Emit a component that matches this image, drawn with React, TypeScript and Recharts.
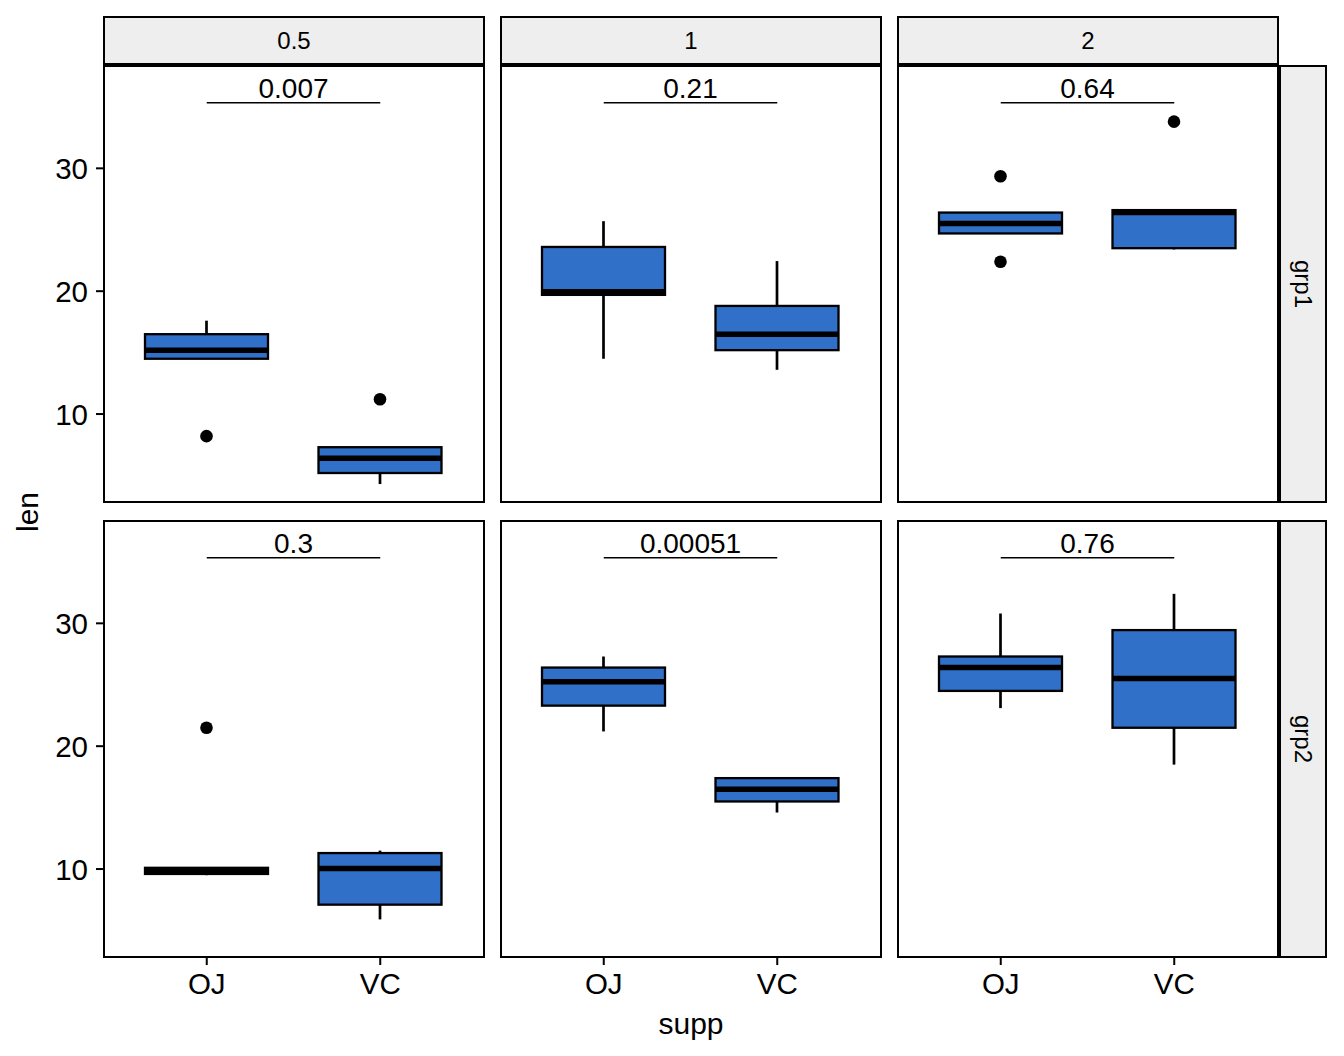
import React from 'react';
import { ComposedChart, Bar, XAxis, YAxis, ReferenceLine } from 'recharts';

const supps = ['OJ', 'VC'];
const doses = ['0.5', '1', '2'];
const groups = ['grp1', 'grp2'];
const yTicks = [10, 20, 30];

// [row = grp][col = dose][OJ, VC]
const whiskerLow = [
  [[14.5, 4.3], [14.5, 13.6], [24.7, 23.4]],
  [[9.5, 5.9], [21.2, 14.6], [23.1, 18.5]],
];
const q1 = [
  [[14.5, 5.2], [19.7, 15.2], [24.7, 23.5]],
  [[9.6, 7.1], [23.3, 15.5], [24.5, 21.5]],
];
const median = [
  [[15.2, 6.4], [19.95, 16.5], [25.5, 26.4]],
  [[9.85, 10.05], [25.25, 16.5], [26.4, 25.5]],
];
const q3 = [
  [[16.5, 7.3], [23.6, 18.8], [26.4, 26.6]],
  [[10.1, 11.3], [26.4, 17.4], [27.3, 29.45]],
];
const whiskerHigh = [
  [[17.6, 7.3], [25.7, 22.45], [26.4, 26.6]],
  [[10.1, 11.5], [27.3, 17.4], [30.8, 32.4]],
];
const outliers = [
  [[[8.2], [11.2]], [[], []], [[29.35, 22.4], [33.8]]],
  [[[21.5], []], [[], []], [[], []]],
];
const pValues = [
  ['0.007', '0.21', '0.64'],
  ['0.3', '0.00051', '0.76'],
];
const bracketY = 35.34;

const FONT = "'Liberation Sans', Arial, Helvetica, sans-serif";
const FILL = '#3070c8';
const STRIP = '#eeeeee';

const colLeft = [104, 501, 898];
const rowTop = [66, 521];
const PW = 380;
const PH = 436;

const BoxShape = (props: any) => {
  const { x, y, width, height, payload } = props;
  const top = Math.min(y, y + height);
  const ppu = Math.abs(height) / (payload.q3 - payload.q1);
  const py = (v: number) => top + (payload.q3 - v) * ppu;
  const cx = x + width / 2;
  return (
    <g>
      <line x1={cx} x2={cx} y1={py(payload.hi)} y2={py(payload.lo)} stroke="#000" strokeWidth={2.7} />
      <rect
        x={x}
        y={py(payload.q3)}
        width={width}
        height={py(payload.q1) - py(payload.q3)}
        fill={FILL}
        stroke="#000"
        strokeWidth={2.3}
      />
      <line x1={x} x2={x + width} y1={py(payload.med)} y2={py(payload.med)} stroke="#000" strokeWidth={5.5} />
      {payload.out.map((v: number, i: number) => (
        <circle key={i} cx={cx} cy={py(v)} r={6.3} fill="#000" />
      ))}
    </g>
  );
};

function Panel({ r, c }: { r: number; c: number }) {
  const rows = supps.map((s, i) => ({
    supp: s,
    lo: whiskerLow[r][c][i],
    q1: q1[r][c][i],
    med: median[r][c][i],
    q3: q3[r][c][i],
    hi: whiskerHigh[r][c][i],
    out: outliers[r][c][i],
  }));
  const showY = c === 0;
  const showX = r === 1;
  const axisW = showY ? colLeft[0] : 0;
  return (
    <div style={{ position: 'absolute', left: colLeft[c] - axisW, top: rowTop[r] }}>
      <ComposedChart
        width={PW + axisW}
        height={PH + (showX ? 60 : 0)}
        data={rows}
        margin={{ top: 0, right: 0, bottom: 0, left: 0 }}
      >
        <XAxis
          dataKey="supp"
          hide={!showX}
          height={60}
          padding={{ left: 16, right: 17 }}
          interval={0}
          axisLine={false}
          tickSize={8}
          tickMargin={8}
          tickLine={{ stroke: '#000', strokeWidth: 2 }}
          tick={{ fill: '#000', fontSize: 29.5 }}
        />
        <YAxis
          type="number"
          domain={[2.84, 38.33]}
          allowDataOverflow
          ticks={yTicks}
          hide={!showY}
          width={axisW}
          axisLine={false}
          tickSize={8}
          tickMargin={8}
          tickLine={{ stroke: '#000', strokeWidth: 2 }}
          tick={{ fill: '#000', fontSize: 29.5 }}
        />
        <Bar dataKey={(d: any) => [d.q1, d.q3]} barSize={123} shape={BoxShape} isAnimationActive={false} />
        <ReferenceLine
          segment={[{ x: 'OJ', y: bracketY }, { x: 'VC', y: bracketY }]}
          stroke="#000"
          strokeWidth={1.3}
          label={{ value: pValues[r][c], position: 'top', offset: 5, fill: '#000', fontSize: 28 }}
        />
      </ComposedChart>
    </div>
  );
}

export default function App() {
  return (
    <div style={{ position: 'absolute', left: 0, top: 0, width: 1344, height: 1056, background: '#fff', fontFamily: FONT, color: '#000' }}>
      {groups.map((g, r) =>
        doses.map((d, c) => <Panel key={`${g}-${d}`} r={r} c={c} />)
      )}
      {groups.map((g, r) =>
        doses.map((d, c) => (
          <div
            key={`border-${g}-${d}`}
            style={{
              position: 'absolute',
              left: colLeft[c] - 1,
              top: rowTop[r] - 1,
              width: PW + 2,
              height: PH + 2,
              border: '2px solid #000',
              boxSizing: 'border-box',
              pointerEvents: 'none',
            }}
          />
        ))
      )}
      {doses.map((d, c) => (
        <div
          key={`strip-${d}`}
          style={{
            position: 'absolute',
            left: colLeft[c] - 1,
            top: 16,
            width: PW + 2,
            height: 49,
            border: '2px solid #000',
            boxSizing: 'border-box',
            background: STRIP,
            display: 'flex',
            alignItems: 'center',
            justifyContent: 'center',
            fontSize: 24,
          }}
        >
          {d}
        </div>
      ))}
      {groups.map((g, r) => (
        <div
          key={`rstrip-${g}`}
          style={{
            position: 'absolute',
            left: colLeft[2] + PW + 1,
            top: rowTop[r] - 1,
            width: 48,
            height: PH + 2,
            border: '2px solid #000',
            boxSizing: 'border-box',
            background: STRIP,
            display: 'flex',
            alignItems: 'center',
            justifyContent: 'center',
          }}
        >
          <span style={{ transform: 'rotate(90deg)', fontSize: 24, whiteSpace: 'nowrap' }}>{g}</span>
        </div>
      ))}
      <div
        style={{
          position: 'absolute',
          left: 28,
          top: 512,
          transform: 'translate(-50%, -50%) rotate(-90deg)',
          fontSize: 30,
          whiteSpace: 'nowrap',
        }}
      >
        len
      </div>
      <div
        style={{
          position: 'absolute',
          left: 691,
          top: 1024,
          transform: 'translate(-50%, -50%)',
          fontSize: 30,
          whiteSpace: 'nowrap',
        }}
      >
        supp
      </div>
    </div>
  );
}
